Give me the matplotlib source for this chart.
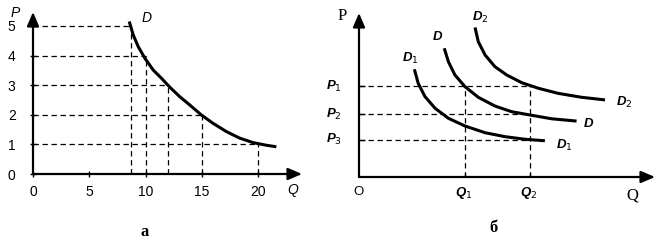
import numpy as np
import matplotlib.pyplot as plt

# panel a: demand curve
q_curve = [8.55, 8.90, 9.35, 9.94, 10.68, 11.42, 12.16, 13.04, 13.93, 14.97,
           16.0, 17.19, 18.37, 19.55, 20.74, 21.62]
p_curve = [5.15, 4.70, 4.30, 3.91, 3.51, 3.23, 2.93, 2.61, 2.33, 1.99,
           1.71, 1.43, 1.21, 1.06, 0.97, 0.92]
q_marks = [8.7, 10, 12, 15, 20]
p_marks = [5, 4, 3, 2, 1]
x_ticks = [0, 5, 10, 15, 20]
y_ticks = [0, 1, 2, 3, 4, 5]

# panel b: three demand curves (arbitrary units)
q_d1 = [1.87, 2.0, 2.23, 2.57, 3.02, 3.58, 4.26, 4.93, 5.61, 6.28]
p_d1 = [6.57, 5.71, 4.90, 4.19, 3.58, 3.11, 2.70, 2.46, 2.30, 2.21]
q_d = [2.88, 3.02, 3.24, 3.58, 4.03, 4.59, 5.16, 5.78, 6.51, 7.35]
p_d = [7.85, 7.03, 6.22, 5.51, 4.86, 4.33, 3.98, 3.78, 3.55, 3.41]
q_d2 = [3.92, 4.03, 4.26, 4.59, 4.99, 5.50, 6.06, 6.73, 7.52, 8.31]
p_d2 = [9.12, 8.25, 7.44, 6.73, 6.22, 5.75, 5.41, 5.10, 4.86, 4.70]
q_levels = [3.58, 5.78]   # Q1, Q2
p_levels = [5.55, 3.84, 2.26]   # P1, P2, P3

sans = 'Liberation Sans'
serif = 'Liberation Serif'
dash = (0, (4.3, 2.9))
arr = dict(arrowstyle='-|>,head_length=0.7,head_width=0.3', lw=1.6, color='k',
           shrinkA=0, shrinkB=0, mutation_scale=12)

fig = plt.figure(figsize=(6.7, 2.45), dpi=100)

# ---- a ----
ax1 = fig.add_axes([33/670, 71/245, 269/670, 162/245])
ax1.set_xlim(0, 23.9)
ax1.set_ylim(0, 5.47)
for s in ax1.spines.values():
    s.set_visible(False)
ax1.annotate('', xy=(23.9, 0), xytext=(0, 0), arrowprops=arr, annotation_clip=False)
ax1.annotate('', xy=(0, 5.47), xytext=(0, 0), arrowprops=arr, annotation_clip=False)
for q, p in zip(q_marks, p_marks):
    ax1.plot([0, q], [p, p], color='k', lw=0.9, linestyle=dash)
    ax1.plot([q, q], [0, p], color='k', lw=0.9, linestyle=dash)
ax1.plot(q_curve, p_curve, color='k', lw=2.2, solid_capstyle='butt')
ax1.set_xticks(x_ticks)
ax1.set_yticks(y_ticks)
ax1.set_xticklabels([str(v) for v in x_ticks], fontfamily=sans, fontsize=10)
ax1.set_yticklabels([str(v) for v in y_ticks], fontfamily=sans, fontsize=10)
ax1.tick_params(axis='x', direction='inout', length=4, width=1, pad=6)
ax1.tick_params(axis='y', direction='inout', length=5, width=1, pad=10)
ax1.text(-1.6, 5.44, 'P', fontfamily=sans, style='italic', fontsize=10, ha='center', va='center')
ax1.text(23.1, -0.54, 'Q', fontfamily=sans, style='italic', fontsize=10, ha='center', va='center')
ax1.text(10.1, 5.27, 'D', fontfamily=sans, style='italic', fontsize=10, ha='center', va='center')

# ---- б ----
ax2 = fig.add_axes([359/670, 68/245, 296/670, 164/245])
ax2.set_xlim(0, 10)
ax2.set_ylim(0, 10)
for s in ax2.spines.values():
    s.set_visible(False)
ax2.annotate('', xy=(10, 0), xytext=(0, 0), arrowprops=arr, annotation_clip=False)
ax2.annotate('', xy=(0, 10), xytext=(0, 0), arrowprops=arr, annotation_clip=False)
for p in p_levels:
    ax2.plot([0, q_levels[1]], [p, p], color='k', lw=0.9, linestyle=dash)
for q in q_levels:
    ax2.plot([q, q], [0, p_levels[0]], color='k', lw=0.9, linestyle=dash)
for qq, pp in [(q_d1, p_d1), (q_d, p_d), (q_d2, p_d2)]:
    ax2.plot(qq, pp, color='k', lw=2.2, solid_capstyle='butt')
ax2.set_xticks(q_levels)
ax2.set_yticks(p_levels)
ax2.set_xticklabels([])
ax2.set_yticklabels([])
ax2.tick_params(axis='x', direction='in', length=3, width=1)
ax2.tick_params(axis='y', direction='in', length=4, width=1)

bi = dict(fontfamily=sans, style='italic', fontweight='bold', fontsize=9.5, ha='center', va='center')
for i, p in enumerate(p_levels):
    ax2.text(-0.85, p, 'P$_{%d}$' % (i + 1), **bi)
for i, q in enumerate(q_levels):
    ax2.text(q - 0.05, -0.95, 'Q$_{%d}$' % (i + 1), **bi)
ax2.text(1.75, 7.2, 'D$_1$', **bi)
ax2.text(2.64, 8.54, 'D', **bi)
ax2.text(4.1, 9.7, 'D$_2$', **bi)
ax2.text(6.95, 1.92, 'D$_1$', **bi)
ax2.text(7.77, 3.23, 'D', **bi)
ax2.text(8.95, 4.55, 'D$_2$', **bi)
ax2.text(-0.57, 9.8, 'P', fontfamily=serif, fontsize=12, ha='center', va='center')
ax2.text(9.22, -1.1, 'Q', fontfamily=serif, fontsize=12, ha='center', va='center')
ax2.text(-0.03, -0.9, 'O', fontfamily=sans, fontsize=9.5, ha='center', va='center')

fig.text(145/670, 1 - 232/245, 'а', fontfamily=serif, fontweight='bold', fontsize=12, ha='center', va='center')
fig.text(493/670, 1 - 228/245, 'б', fontfamily=serif, fontweight='bold', fontsize=12, ha='center', va='center')

plt.savefig('out.png', dpi=100)
